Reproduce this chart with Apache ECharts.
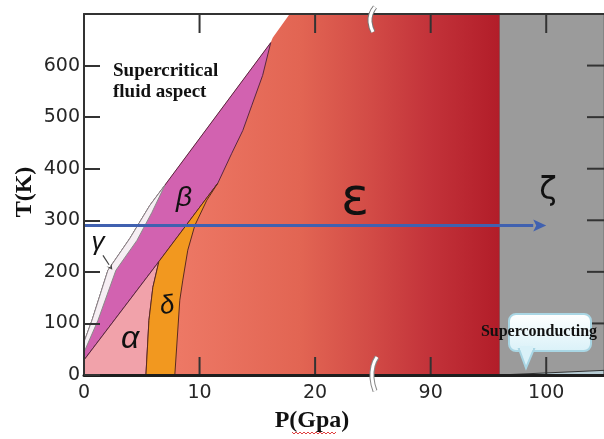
<!DOCTYPE html>
<html>
<head>
<meta charset="utf-8">
<script src="https://cdn.jsdelivr.net/npm/echarts@6/dist/echarts.min.js"></script>
<style>
  html, body { margin: 0; padding: 0; background: #fff; }
  #chart { width: 604px; height: 439px; }
</style>
</head>
<body>
<div id="chart"></div>
<script>
// pressure axis is broken: positions 0,10,20,30,40 carry labels 0,10,20,90,100
var pTickPos = [0, 10, 20, 30, 40];
var pTickLabels = ['0', '10', '20', '90', '100'];
var tTickPos = [0, 100, 200, 300, 400, 500, 600];
var pMax = 45, tMax = 700;

// phase boundaries, [pressure position, T(K)]
var meltLine   = [[0, 64], [0.69, 106], [2.07, 203], [3.97, 265], [5.70, 329], [16.16, 644.5]];
var gammaInner = [[0, 44], [1.21, 106], [2.76, 203], [4.58, 261], [5.87, 315], [7.0, 368]];
var fluidTop   = [[16.16, 644.5], [16.33, 654], [17.8, 700]];
var betaRight  = [[11.58, 372], [12.79, 430], [13.74, 474], [14.51, 522], [15.46, 581], [16.16, 644.5]];
var alphaBeta  = [[0, 29], [6.48, 220], [11.58, 372]];
var deltaLeft  = [[5.36, 0], [5.62, 106], [5.96, 170], [6.48, 220]];
var deltaRight = [[7.86, 0], [8.29, 145], [8.55, 184], [8.98, 242], [9.59, 290], [10.63, 339], [11.58, 372]];
var epsZetaP = 35.95;
var superEdge = [[35.95, 0], [45, 0], [45, 9], [40, 4]];
var blueArrow = [[0, 290], [40, 290]];
var gammaPointer = [[1.64, 232], [2.45, 204]];

var rev = function (a) { return a.slice().reverse(); };

var regions = {
  zeta: [[epsZetaP, 0], [pMax, 0], [pMax, tMax], [epsZetaP, tMax]],
  eps: [[0, 0], [epsZetaP, 0], [epsZetaP, tMax], [0, tMax]],
  fluid: [[0, tMax]].concat(rev(fluidTop), rev(meltLine)),
  beta: [[0, 29]].concat(meltLine, rev(betaRight), rev(alphaBeta).slice(1)),
  gamma: meltLine.filter(function (p) { return p[0] < 7; }).concat(rev(gammaInner)),
  alpha: [[0, 0], [0, 29], [6.48, 220]].concat(rev(deltaLeft).slice(1)),
  delta: deltaLeft.concat([[11.58, 372]], rev(deltaRight).slice(1)),
  superc: superEdge
};

var epsFill = new echarts.graphic.LinearGradient(0, 0, 1, 0, [
  { offset: 0, color: '#f08c7a' },
  { offset: 0.23, color: '#ed7865' },
  { offset: 0.52, color: '#e26553' },
  { offset: 0.69, color: '#d24b46' },
  { offset: 0.83, color: '#c3333a' },
  { offset: 1, color: '#b21d29' }
]);

function regionSeries(pts, fill, stroke, lw) {
  return {
    type: 'custom',
    silent: true,
    clip: true,
    z: 1,
    data: [0],
    renderItem: function (params, api) {
      return {
        type: 'polygon',
        shape: { points: pts.map(function (p) { return api.coord(p); }) },
        style: { fill: fill, stroke: stroke || null, lineWidth: lw || 0 }
      };
    }
  };
}

function arrowParts(a, b, color, width, headL, headW) {
  var dx = b[0] - a[0], dy = b[1] - a[1];
  var len = Math.sqrt(dx * dx + dy * dy);
  var ux = dx / len, uy = dy / len;
  var bx = b[0] - ux * headL, by = b[1] - uy * headL;
  return [
    { type: 'line', shape: { x1: a[0], y1: a[1], x2: bx, y2: by },
      style: { stroke: color, lineWidth: width } },
    { type: 'polygon',
      shape: { points: [[b[0], b[1]], [bx - uy * headW, by + ux * headW], [bx + ux * 3, by + uy * 3], [bx + uy * headW, by - ux * headW]] },
      style: { fill: color } }
  ];
}

// tick marks as thin filled bars (bottom, top, right frame), plus the two arrows
var overlaySeries = {
  type: 'custom',
  silent: true,
  clip: false,
  z: 8,
  data: [0],
  renderItem: function (params, api) {
    var kids = [];
    pTickPos.forEach(function (u) {
      if (u === 0) return;
      var b = api.coord([u, 0]), t = api.coord([u, tMax]);
      kids.push({ type: 'rect', shape: { x: b[0] - 1, y: b[1] - 18, width: 2, height: 18 }, style: { fill: '#333' } });
      kids.push({ type: 'rect', shape: { x: t[0] - 1, y: t[1], width: 2, height: 19 }, style: { fill: '#333' } });
    });
    tTickPos.forEach(function (v) {
      if (v === 0) return;
      var r = api.coord([pMax, v]);
      kids.push({ type: 'rect', shape: { x: r[0] - 17, y: r[1] - 1, width: 17, height: 2 }, style: { fill: '#333' } });
    });
    kids = kids.concat(
      arrowParts(api.coord(blueArrow[0]), api.coord(blueArrow[1]), '#4061b0', 3, 13, 6),
      arrowParts(api.coord(gammaPointer[0]), api.coord(gammaPointer[1]), '#444', 1.2, 6, 3)
    );
    return { type: 'group', children: kids };
  }
};

function pLabel(v) {
  var i = pTickPos.indexOf(v);
  return i >= 0 ? pTickLabels[i] : '';
}

var tickFont = 'DejaVu Sans';
var greek = function (txt, x, y, size, rot) {
  return {
    type: 'text', x: x, y: y, rotation: rot || 0, z: 20,
    style: { text: txt, font: 'italic ' + size + 'px "Liberation Sans"', fill: '#111', align: 'center', verticalAlign: 'middle' }
  };
};

// red spell-check squiggle under "Gpa"
var squiggle = [];
for (var sx = 292; sx <= 337; sx += 2) squiggle.push([sx, (sx / 2) % 2 === 0 ? 432 : 434]);

var chart = echarts.init(document.getElementById('chart'));
chart.setOption({
  animation: false,
  backgroundColor: '#fff',
  grid: { left: 84, right: 0, top: 14, bottom: 64, outerBoundsMode: 'none' },
  xAxis: [{
    type: 'value', min: 0, max: pMax, interval: 10, position: 'bottom', z: 10,
    axisLine: { show: true, onZero: false, lineStyle: { color: '#1e1e1e', width: 3 } },
    axisTick: { show: false },
    axisLabel: { formatter: pLabel, fontSize: 19, color: '#262626', fontFamily: tickFont, margin: 9 },
    splitLine: { show: false }
  }, {
    type: 'value', min: 0, max: pMax, interval: 10, position: 'top', z: 10,
    axisLine: { show: true, onZero: false, lineStyle: { color: '#333', width: 2 } },
    axisTick: { show: false },
    axisLabel: { show: false },
    splitLine: { show: false }
  }],
  yAxis: [{
    type: 'value', min: 0, max: tMax, interval: 100, position: 'left', z: 10,
    axisLine: { show: true, onZero: false, lineStyle: { color: '#333', width: 2 } },
    axisTick: { show: true, inside: true, length: 16, lineStyle: { color: '#333', width: 2 } },
    axisLabel: { formatter: function (v) { return v === tMax ? '' : v; }, fontSize: 19, color: '#262626', fontFamily: tickFont, margin: 4 },
    splitLine: { show: false }
  }],
  series: [
    regionSeries(regions.zeta, '#9b9b9b', '#6e6e6e', 1),
    regionSeries(regions.eps, epsFill),
    regionSeries(regions.fluid, '#ffffff'),
    regionSeries(regions.beta, '#d262b0', '#5a2740', 1),
    regionSeries(regions.gamma, '#f6eef3', '#8a8a8a', 1),
    regionSeries(regions.alpha, '#f1a2aa', '#5a2740', 1),
    regionSeries(regions.delta, '#f2981f', '#5a2a20', 1),
    regionSeries(regions.superc, '#b7ccd4', '#333', 1),
    overlaySeries
  ],
  graphic: [
    { type: 'text', x: 113, y: 61, z: 20,
      style: { text: 'Supercritical\nfluid aspect', font: 'bold 19px "Liberation Serif"', lineHeight: 21, fill: '#111' } },
    greek('\u03b2', 184, 198, 28),
    greek('\u03b3', 98, 243, 26),
    greek('\u03b4', 167, 306, 26, 0.15),
    greek('\u03b1', 130, 339, 32),
    { type: 'text', x: 355, y: 200, z: 20,
      style: { text: '\u03b5', font: '52px "DejaVu Sans"', fill: '#111', align: 'center', verticalAlign: 'middle' } },
    { type: 'text', x: 548, y: 191, z: 20,
      style: { text: '\u03b6', font: '32px "DejaVu Sans"', fill: '#111', align: 'center', verticalAlign: 'middle' } },
    // callout bubble
    { type: 'rect', z: 18, shape: { x: 509, y: 314, width: 82, height: 37, r: 7 },
      style: { fill: new echarts.graphic.LinearGradient(0, 0, 0, 1, [{ offset: 0, color: '#ffffff' }, { offset: 1, color: '#d9f1f8' }]), stroke: '#a9d6e4', lineWidth: 2 } },
    { type: 'polygon', z: 18, shape: { points: [[519, 349], [534, 349], [526, 368]] },
      style: { fill: '#d9f1f8', stroke: '#a9d6e4', lineWidth: 2 } },
    { type: 'rect', z: 18, shape: { x: 520, y: 346, width: 13, height: 4 }, style: { fill: '#d9f1f8' } },
    { type: 'text', x: 539, y: 332, z: 21,
      style: { text: 'Superconducting', font: 'bold 16px "Liberation Serif"', fill: '#111', align: 'center', verticalAlign: 'middle' } },
    // axis breaks
    { type: 'polyline', z: 22, shape: { points: [[375, 7], [371, 14], [370, 22], [373, 32]], smooth: 0.5 },
      style: { stroke: '#777', lineWidth: 5, fill: null } },
    { type: 'polyline', z: 23, shape: { points: [[375, 7], [371, 14], [370, 22], [373, 32]], smooth: 0.5 },
      style: { stroke: '#fff', lineWidth: 3, fill: null } },
    { type: 'polyline', z: 22, shape: { points: [[377, 357], [373, 366], [372, 378], [375, 391]], smooth: 0.5 },
      style: { stroke: '#888', lineWidth: 5, fill: null } },
    { type: 'polyline', z: 23, shape: { points: [[377, 357], [373, 366], [372, 378], [375, 391]], smooth: 0.5 },
      style: { stroke: '#fff', lineWidth: 3, fill: null } },
    // axis names
    { type: 'text', x: 25, y: 192, rotation: Math.PI / 2, z: 20,
      style: { text: 'T(K)', font: 'bold 24px "Liberation Serif"', fill: '#111', align: 'center', verticalAlign: 'middle' } },
    { type: 'text', x: 312, y: 421, z: 20,
      style: { text: 'P(Gpa)', font: 'bold 24px "Liberation Serif"', fill: '#111', align: 'center', verticalAlign: 'middle' } },
    { type: 'polyline', z: 20, shape: { points: squiggle }, style: { stroke: '#e04040', lineWidth: 1, fill: null } }
  ]
});
</script>
</body>
</html>
